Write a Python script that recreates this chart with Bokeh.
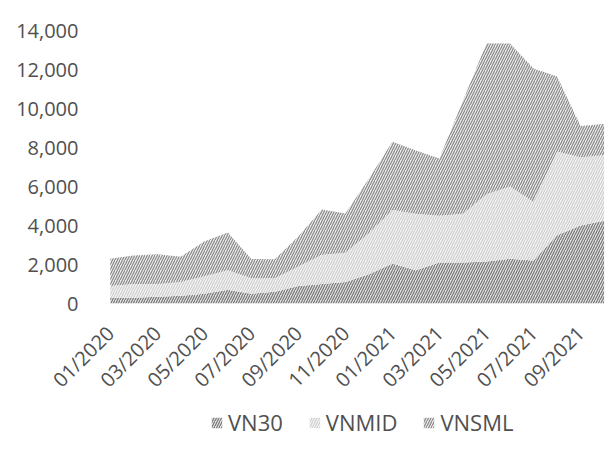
import math
from bokeh.plotting import figure
from bokeh.layouts import column
from bokeh.models import ColumnDataSource, Range1d, FixedTicker, NumeralTickFormatter, Legend
from bokeh.embed import file_html
from bokeh.resources import INLINE

months = ["01/2020", "02/2020", "03/2020", "04/2020", "05/2020", "06/2020",
          "07/2020", "08/2020", "09/2020", "10/2020", "11/2020", "12/2020",
          "01/2021", "02/2021", "03/2021", "04/2021", "05/2021", "06/2021",
          "07/2021", "08/2021", "09/2021", "10/2021"]
vn30 = [300, 300, 350, 400, 500, 700, 500, 600, 900, 1000, 1100, 1500,
        2050, 1700, 2100, 2100, 2150, 2300, 2200, 3500, 4000, 4250]
vnmid = [600, 700, 650, 700, 900, 1000, 800, 700, 1000, 1500, 1500, 2100,
         2750, 2900, 2400, 2500, 3450, 3700, 3000, 4300, 3500, 3350]
vnsml = [1400, 1460, 1530, 1300, 1780, 1940, 980, 970, 1530, 2320, 2020, 2800,
         3500, 3250, 2940, 5800, 7730, 7330, 6850, 3840, 1600, 1600]
series = ["VN30", "VNMID", "VNSML"]
y_ticks = [0, 2000, 4000, 6000, 8000, 10000, 12000, 14000]

x = list(range(len(months)))
source = ColumnDataSource(dict(x=x, VN30=vn30, VNMID=vnmid, VNSML=vnsml))

fills = ["#e4e4e4", "#f6f6f6", "#eeeeee"]
hatches = ["#767676", "#cdcdcd", "#878787"]
font = "Open Sans"
text_color = "#505050"
hatch_kw = dict(hatch_pattern="/", hatch_scale=5, hatch_weight=1.2)

p = figure(width=613, height=405, output_backend="svg", toolbar_location=None,
           x_range=Range1d(-0.5, 21.4), y_range=Range1d(0, 14000),
           min_border_left=98, min_border_right=0, min_border_top=30,
           min_border_bottom=102)
p.outline_line_color = None
p.xgrid.grid_line_color = None
p.ygrid.grid_line_color = None

p.varea_stack(stackers=series, x="x", source=source,
              fill_color=fills, hatch_color=hatches, **hatch_kw)

p.yaxis.ticker = FixedTicker(ticks=y_ticks)
p.yaxis.formatter = NumeralTickFormatter(format="0,0")
p.xaxis.ticker = FixedTicker(ticks=x[::2])
p.xaxis.major_label_overrides = {i: months[i] for i in x[::2]}
p.xaxis.major_label_orientation = math.pi / 4
for ax in (p.xaxis, p.yaxis):
    ax.axis_line_color = None
    ax.major_tick_line_color = None
    ax.minor_tick_line_color = None
    ax.major_label_text_font = font
    ax.major_label_text_font_size = "20px"
    ax.major_label_text_color = text_color
p.yaxis.major_label_standoff = 14
p.xaxis.major_label_standoff = 20

# legend strip below the chart (its frame is aligned with the chart's frame)
leg_fig = figure(width=613, height=50, output_backend="svg", toolbar_location=None,
                 x_range=Range1d(0, 1), y_range=Range1d(0, 1),
                 x_axis_location=None, y_axis_location=None,
                 min_border=0)
leg_fig.outline_line_color = None
leg_fig.xgrid.grid_line_color = None
leg_fig.ygrid.grid_line_color = None
items = []
for name, fc, hc in zip(series, fills, hatches):
    # data kept outside the visible range; only the legend swatch is seen
    r = leg_fig.varea(x=[5, 6], y1=[5, 5], y2=[6, 6], fill_color=fc,
                      hatch_color=hc, **hatch_kw)
    items.append((name, [r]))
legend = Legend(items=items, orientation="horizontal", location=(112, 18),
                label_text_font=font, label_text_font_size="22px",
                label_text_color=text_color, border_line_color=None,
                background_fill_alpha=0,
                glyph_width=13, glyph_height=13, spacing=25,
                label_standoff=5, margin=0, padding=0)
leg_fig.add_layout(legend, "center")

layout = column(p, leg_fig, spacing=0)
open("out.html", "w").write(file_html(layout, INLINE))
